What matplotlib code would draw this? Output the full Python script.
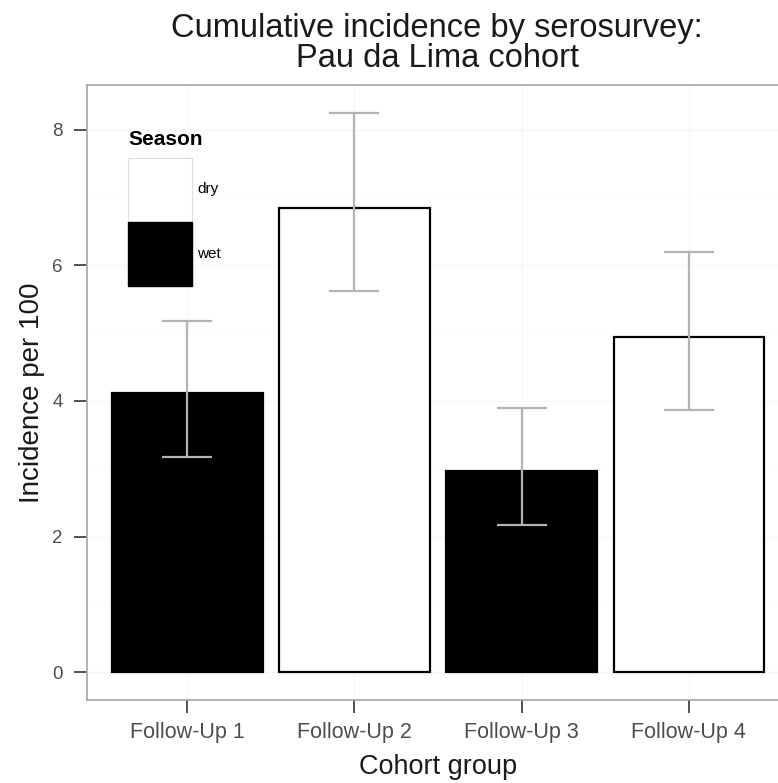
import matplotlib
matplotlib.use('Agg')
import matplotlib.pyplot as plt
from matplotlib.patches import Patch

# data
groups = ['Follow-Up 1', 'Follow-Up 2', 'Follow-Up 3', 'Follow-Up 4']
season = ['wet', 'dry', 'wet', 'dry']
incidence = [4.12, 6.85, 2.96, 4.94]
ci_low = [3.18, 5.62, 2.17, 3.87]
ci_high = [5.18, 8.25, 3.89, 6.19]

season_colors = {'dry': 'white', 'wet': 'black'}

plt.rcParams['font.family'] = ['Liberation Sans', 'DejaVu Sans']

fig = plt.figure(figsize=(7.78, 7.83), dpi=100)
ax = fig.add_axes([87 / 778, 1 - 700 / 783, (789 - 87) / 778, (700 - 85) / 783])

x = list(range(1, len(groups) + 1))
ax.bar(x, incidence, width=0.9, color=[season_colors[s] for s in season],
       edgecolor='black', linewidth=1.6, zorder=2)

yerr = [[v - lo for v, lo in zip(incidence, ci_low)],
        [hi - v for v, hi in zip(incidence, ci_high)]]
ax.errorbar(x, incidence, yerr=yerr, fmt='none', ecolor='#b3b3b3',
            elinewidth=1.6, capsize=18, capthick=1.6, zorder=3)

ax.set_xlim(0.4, 4.6)
ax.set_ylim(-0.41, 8.66)
ax.set_xticks(x)
ax.set_xticklabels(groups)
ax.set_yticks([0, 2, 4, 6, 8])

# faint ggplot-style grid
for v in [0, 2, 4, 6, 8]:
    ax.axhline(v, color='#f7f7f7', linewidth=1.0, zorder=0)
for v in [1, 3, 5, 7]:
    ax.axhline(v, color='#fbfbfb', linewidth=0.6, zorder=0)
for v in x:
    ax.axvline(v, color='#f7f7f7', linewidth=1.0, zorder=0)

for sp in ax.spines.values():
    sp.set_color('#a6a6a6')
    sp.set_linewidth(1.2)

ax.tick_params(axis='both', color='#333333', labelcolor='#4d4d4d',
               length=9.5, width=1.2)
ax.tick_params(axis='x', labelsize=15.5, pad=6)
ax.tick_params(axis='y', labelsize=13.5, pad=8)

ax.set_xlabel('Cohort group', fontsize=19.5, color='#1a1a1a', labelpad=8)
ax.set_ylabel('Incidence per 100', fontsize=20, color='#1a1a1a', labelpad=5)
fig.suptitle('Cumulative incidence by serosurvey:\nPau da Lima cohort',
             x=0.562, y=0.983, fontsize=23.5, color='#1a1a1a', linespacing=0.95)

handles = [Patch(facecolor='white', edgecolor='#dddddd', linewidth=0.8, label='dry'),
           Patch(facecolor='black', edgecolor='black', label='wet')]
leg = ax.legend(handles=handles, title='Season', loc='upper left',
                bbox_to_anchor=(0.0497, 0.936), frameon=False, fontsize=11,
                handlelength=4.2, handleheight=6.1, labelspacing=0.0,
                handletextpad=0.35, borderaxespad=0.0)
leg.get_title().set_fontweight('bold')
leg.get_title().set_fontsize(15)
leg._legend_box.align = 'left'
leg._legend_box.sep = 6  # gap between "Season" and the keys

fig.savefig('out.png', dpi=100)
